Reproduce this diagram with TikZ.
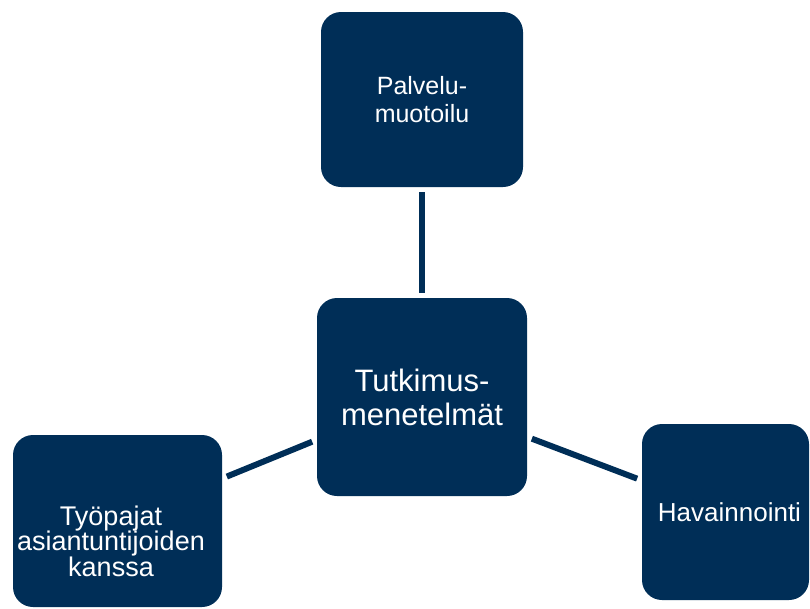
\documentclass[tikz,border=0pt]{standalone}
\usepackage{fontspec}
\setmainfont{Liberation Sans}
\definecolor{navy}{RGB}{0,46,87}
\begin{document}
\begin{tikzpicture}[x=1pt,y=-1pt,
  box/.style={fill=navy, rounded corners=20pt, inner sep=0pt, text=white, align=center},
  link/.style={draw=navy, line width=6pt, shorten <=5pt, shorten >=5pt},
  txt/.style={text=white, align=center, inner sep=0pt}]
\useasboundingbox (0,0) rectangle (810,608);
\node[box, minimum width=202pt, minimum height=175pt, font=\fontsize{25}{28}\selectfont] (top) at (422,99.5) {Palvelu-\\muotoilu};
\node[box, minimum width=210pt, minimum height=198pt, font=\fontsize{31}{34}\selectfont] (center) at (422,397) {Tutkimus-\\menetelmät};
\node[box, minimum width=209pt, minimum height=172pt] (left) at (117.5,521) {};
\node[txt, font=\fontsize{27}{25.5}\selectfont] (lefttext) at (111,541) {Työpajat\\asiantuntijoiden\\kanssa};
\node[box, minimum width=167pt, minimum height=176pt] (right) at (725.5,512) {};
\node[txt, font=\fontsize{26}{28}\selectfont] (righttext) at (729.5,512) {Havainnointi};
\draw[link] (top) -- (center);
\draw[link] (left) -- (center);
\draw[link] (center) -- (right);
\end{tikzpicture}
\end{document}
